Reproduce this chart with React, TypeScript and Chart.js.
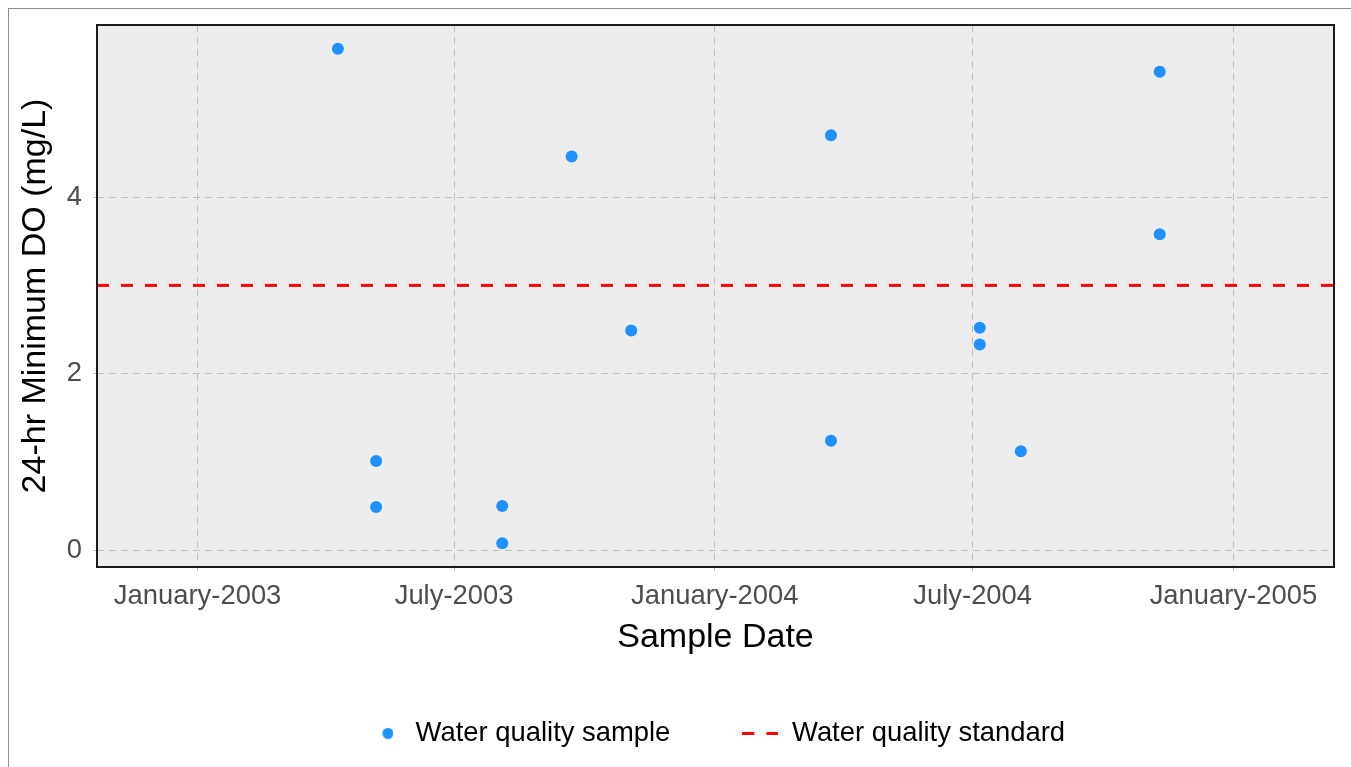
import { useEffect, useRef } from 'react';
import { Chart, registerables } from 'chart.js';

Chart.register(...registerables);

// Sample dates and 24-hr minimum dissolved oxygen readings (mg/L)
const sampleDates = [
  '2003-04-10', '2003-05-07', '2003-05-07', '2003-08-04', '2003-08-04',
  '2003-09-22', '2003-11-03', '2004-03-23', '2004-03-23', '2004-07-06',
  '2004-07-06', '2004-08-04', '2004-11-10', '2004-11-10',
];
const sampleDO = [5.68, 1.01, 0.49, 0.5, 0.08, 4.46, 2.49, 4.7, 1.24, 2.52, 2.33, 1.12, 5.42, 3.58];

// Water quality standard (mg/L)
const doStandard = 3;

// Axis ranges and tick positions
const xRange = ['2002-10-22', '2005-03-13'];
const xTickDates = ['2003-01-01', '2003-07-01', '2004-01-01', '2004-07-01', '2005-01-01'];
const yRange = [-0.19, 5.95];
const yTicks = [0, 2, 4];

const monthNames = [
  'January', 'February', 'March', 'April', 'May', 'June',
  'July', 'August', 'September', 'October', 'November', 'December',
];
const legendLabels = ['Water quality sample', 'Water quality standard'];

const FONT = "'Liberation Sans', Arial, sans-serif";
const SAMPLE_COLOR = '#1E90FF';
const STANDARD_COLOR = '#FF0000';
const GRID_COLOR = '#bcc0c4';
const PANEL_BG = '#ededed';
const TICK_COLOR = '#4D4D4D';

const toTime = (d: string) => Date.parse(d);

const formatDate = (v: number) => {
  const d = new Date(v);
  return `${monthNames[d.getUTCMonth()]}-${d.getUTCFullYear()}`;
};

// Grey panel behind the grid and a dark frame around the plotting area
const panelPlugin = {
  id: 'panel',
  beforeDraw(chart: any) {
    const { ctx, chartArea: a } = chart;
    ctx.save();
    ctx.fillStyle = PANEL_BG;
    ctx.fillRect(a.left, a.top, a.right - a.left, a.bottom - a.top);
    ctx.restore();
  },
  afterDraw(chart: any) {
    const { ctx, chartArea: a } = chart;
    ctx.save();
    ctx.strokeStyle = '#1a1a1a';
    ctx.lineWidth = 2;
    ctx.strokeRect(a.left, a.top, a.right - a.left, a.bottom - a.top);
    ctx.restore();
  },
};

export default function App() {
  const ref = useRef<HTMLCanvasElement>(null);

  useEffect(() => {
    const canvas = ref.current;
    if (!canvas) return;

    // Legend symbols: a dot sitting a little right of its box centre, and a dashed segment
    const dot = document.createElement('canvas');
    dot.width = 19;
    dot.height = 11;
    const dctx = dot.getContext('2d')!;
    dctx.fillStyle = SAMPLE_COLOR;
    dctx.beginPath();
    dctx.arc(13.5, 5.5, 5.5, 0, Math.PI * 2);
    dctx.fill();

    const dash = document.createElement('canvas');
    dash.width = 36;
    dash.height = 3;
    const lctx = dash.getContext('2d')!;
    lctx.fillStyle = STANDARD_COLOR;
    lctx.fillRect(0, 0, 12, 3);
    lctx.fillRect(24, 0, 12, 3);

    const xMin = toTime(xRange[0]);
    const xMax = toTime(xRange[1]);

    const chart = new Chart(canvas, {
      type: 'scatter',
      data: {
        datasets: [
          {
            type: 'line',
            label: legendLabels[1],
            data: [
              { x: xMin, y: doStandard },
              { x: xMax, y: doStandard },
            ],
            borderColor: STANDARD_COLOR,
            borderWidth: 3,
            borderDash: [12, 12],
            pointRadius: 0,
            fill: false,
            order: 1,
          } as any,
          {
            type: 'scatter',
            label: legendLabels[0],
            data: sampleDates.map((d, i) => ({ x: toTime(d), y: sampleDO[i] })),
            backgroundColor: SAMPLE_COLOR,
            borderWidth: 0,
            pointRadius: 6,
            pointHoverRadius: 6,
            order: 0,
          },
        ],
      },
      options: {
        responsive: false,
        animation: false,
        layout: { padding: { top: 16, right: 17, bottom: 10, left: 0 } },
        plugins: {
          tooltip: { enabled: false },
          legend: {
            position: 'bottom',
            fullSize: false,
            align: 'center',
            onClick: () => {},
            labels: {
              usePointStyle: true,
              pointStyleWidth: 36,
              padding: 72,
              color: '#000',
              font: { family: FONT, size: 27.4 },
              generateLabels: () => [
                {
                  text: legendLabels[0],
                  pointStyle: dot,
                  fillStyle: SAMPLE_COLOR,
                  strokeStyle: SAMPLE_COLOR,
                  lineWidth: 0,
                  hidden: false,
                  datasetIndex: 1,
                  fontColor: '#000',
                } as any,
                {
                  text: legendLabels[1],
                  pointStyle: dash,
                  fillStyle: STANDARD_COLOR,
                  strokeStyle: STANDARD_COLOR,
                  lineWidth: 0,
                  hidden: false,
                  datasetIndex: 0,
                  fontColor: '#000',
                } as any,
              ],
            },
          },
        },
        scales: {
          x: {
            type: 'linear',
            min: xMin,
            max: xMax,
            afterBuildTicks: (s: any) => {
              s.ticks = xTickDates.map((d) => ({ value: toTime(d) }));
            },
            afterFit: (s: any) => {
              s.height = 80.6;
              s.paddingLeft = 0;
              s.paddingRight = 0;
            },
            ticks: {
              callback: (v: any) => formatDate(Number(v)),
              color: TICK_COLOR,
              font: { family: FONT, size: 27.4 },
              padding: 9,
              maxRotation: 0,
              autoSkip: false,
            },
            grid: {
              color: GRID_COLOR,
              lineWidth: 1,
              drawTicks: true,
              tickLength: 4,
              tickColor: GRID_COLOR,
            },
            border: { display: false, dash: [7, 5] },
            title: {
              display: true,
              text: 'Sample Date',
              color: '#000',
              font: { family: FONT, size: 34, lineHeight: 1 },
              padding: { top: 0, bottom: -6.9 },
            },
          },
          y: {
            type: 'linear',
            min: yRange[0],
            max: yRange[1],
            afterBuildTicks: (s: any) => {
              s.ticks = yTicks.map((v) => ({ value: v }));
            },
            afterFit: (s: any) => {
              s.width = 88;
              s.paddingTop = 0;
              s.paddingBottom = 0;
            },
            ticks: {
              callback: (v: any) => String(v),
              color: TICK_COLOR,
              font: { family: FONT, size: 27.4 },
              padding: 11,
            },
            grid: {
              color: GRID_COLOR,
              lineWidth: 1,
              drawTicks: true,
              tickLength: 4,
              tickColor: GRID_COLOR,
            },
            border: { display: false, dash: [7, 5] },
            title: {
              display: true,
              text: '24-hr Minimum DO (mg/L)',
              color: '#000',
              font: { family: FONT, size: 34, lineHeight: 1 },
              padding: { top: 10, bottom: 0 },
            },
          },
        },
      },
      plugins: [panelPlugin],
    });

    return () => chart.destroy();
  }, []);

  return (
    <div
      style={{
        position: 'fixed',
        left: 8,
        top: 8,
        width: 1343,
        height: 759,
        boxSizing: 'border-box',
        borderTop: '1px solid #8f8f8f',
        borderLeft: '1px solid #8f8f8f',
        background: '#fff',
        overflow: 'hidden',
      }}
    >
      <canvas ref={ref} width={1342} height={758} style={{ display: 'block', width: 1342, height: 758 }} />
    </div>
  );
}
